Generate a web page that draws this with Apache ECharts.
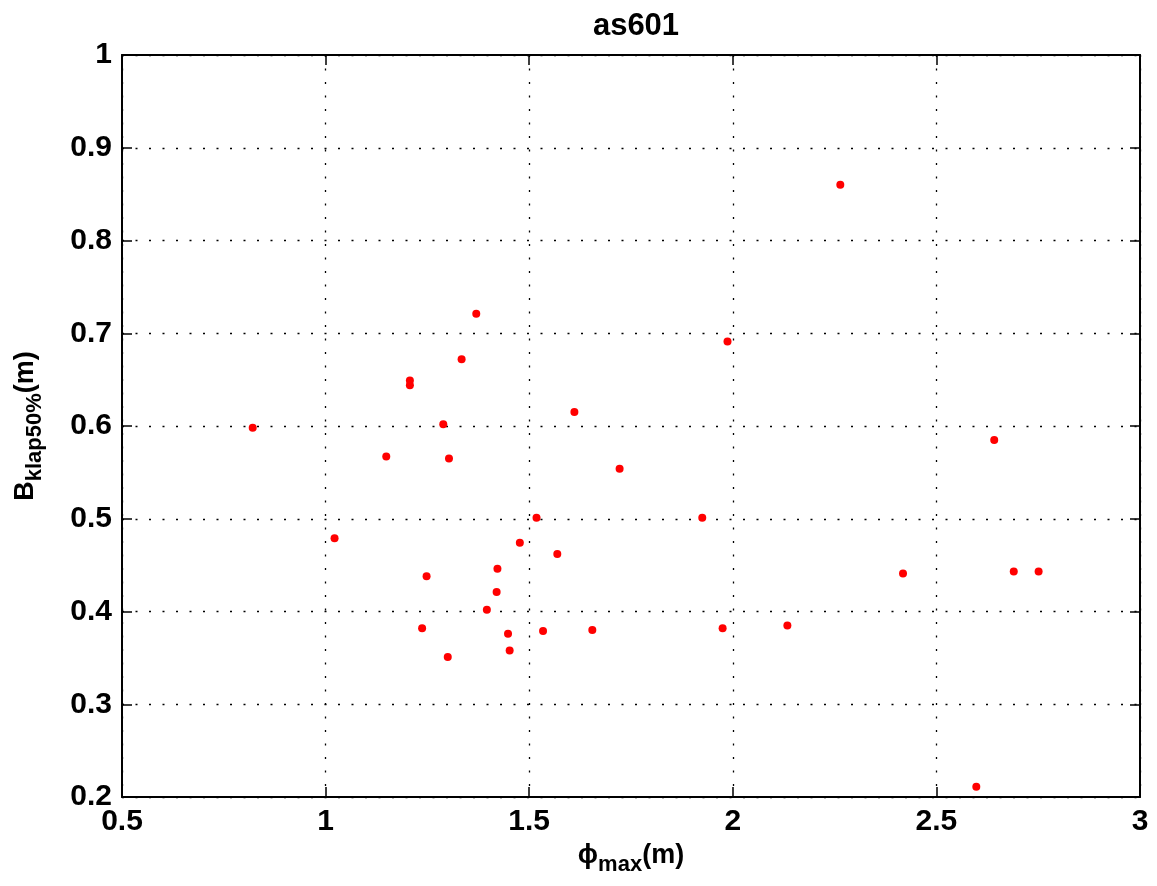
<!DOCTYPE html>
<html>
<head>
<meta charset="utf-8">
<script src="https://cdn.jsdelivr.net/npm/echarts@6/dist/echarts.min.js"></script>
<style>html,body{margin:0;padding:0;background:#fff;}#c{width:1157px;height:886px;}</style>
</head>
<body>
<div id="c"></div>
<script>
const titleText = 'as601';
const xTicks = [0.5, 1, 1.5, 2, 2.5, 3];
const yTicks = [0.2, 0.3, 0.4, 0.5, 0.6, 0.7, 0.8, 0.9, 1];
const phiMax = [0.821, 1.022, 1.149, 1.207, 1.207, 1.237, 1.248, 1.289, 1.300, 1.303, 1.334, 1.370,
  1.396, 1.420, 1.422, 1.448, 1.452, 1.477, 1.518, 1.534, 1.569, 1.611, 1.655, 1.722, 1.925,
  1.975, 1.987, 2.134, 2.264, 2.418, 2.598, 2.642, 2.690, 2.751];
const bKlap = [0.598, 0.479, 0.567, 0.649, 0.644, 0.382, 0.438, 0.602, 0.351, 0.565, 0.672, 0.721,
  0.402, 0.421, 0.446, 0.376, 0.358, 0.474, 0.501, 0.379, 0.462, 0.615, 0.380, 0.554, 0.501,
  0.382, 0.691, 0.385, 0.860, 0.441, 0.211, 0.585, 0.443, 0.443];

const points = phiMax.map((x, i) => [x, bKlap[i]]);
const FONT = '"Liberation Sans", Arial, sans-serif';
const chart = echarts.init(document.getElementById('c'), null, {renderer: 'canvas'});

const labelStyle = {fontFamily: FONT, fontSize: 30, fontWeight: 'bold', color: '#000'};
const gridLine = {show: true, lineStyle: {color: '#000', type: [2, 11.5], width: 1.3}};
const axisCommon = (vals) => ({
  min: vals[0], max: vals[vals.length - 1], interval: +(vals[1] - vals[0]).toFixed(2),
  axisLine: {show: true, onZero: false, lineStyle: {color: '#000', width: 2}},
  axisTick: {show: true, inside: true, length: 10, lineStyle: {color: '#000', width: 1.5}},
});
const richName = {
  a: {fontFamily: FONT, fontSize: 27, fontWeight: 'bold', color: '#000', verticalAlign: 'top', lineHeight: 30},
  s: {fontFamily: FONT, fontSize: 22, fontWeight: 'bold', color: '#000', verticalAlign: 'top', lineHeight: 26, padding: [12, 0, 0, 0]}
};

chart.setOption({
  animation: false,
  backgroundColor: '#fff',
  title: {
    text: titleText, left: 631, top: 6, textAlign: 'center',
    textStyle: {fontFamily: FONT, fontSize: 31, fontWeight: 'bold', color: '#000'}
  },
  grid: {left: 122, right: 17, top: 55, bottom: 89, show: false},
  xAxis: [
    Object.assign(axisCommon(xTicks), {
      type: 'value', position: 'bottom',
      axisLabel: Object.assign({margin: 10, formatter: v => String(+v.toFixed(2))}, labelStyle),
      splitLine: gridLine,
      name: '{a|ϕ}{s|max}{a|(m)}', nameLocation: 'middle', nameGap: 40,
      nameTextStyle: {rich: richName}
    }),
    Object.assign(axisCommon(xTicks), {
      type: 'value', position: 'top', axisLabel: {show: false}, splitLine: {show: false}
    })
  ],
  yAxis: [
    Object.assign(axisCommon(yTicks), {
      type: 'value', position: 'left',
      axisLabel: Object.assign({margin: 10, formatter: v => String(+v.toFixed(2))}, labelStyle),
      splitLine: gridLine,
      name: '{a|B}{s|klap50%}{a|(m)}', nameLocation: 'middle', nameGap: 80, nameRotate: 90,
      nameTextStyle: {rich: richName}
    }),
    Object.assign(axisCommon(yTicks), {
      type: 'value', position: 'right', axisLabel: {show: false}, splitLine: {show: false}
    })
  ],
  series: [{
    type: 'scatter', xAxisIndex: 0, yAxisIndex: 0,
    data: points, symbol: 'circle', symbolSize: 8,
    itemStyle: {color: '#ff0000', opacity: 1}
  }]
});
</script>
</body>
</html>
